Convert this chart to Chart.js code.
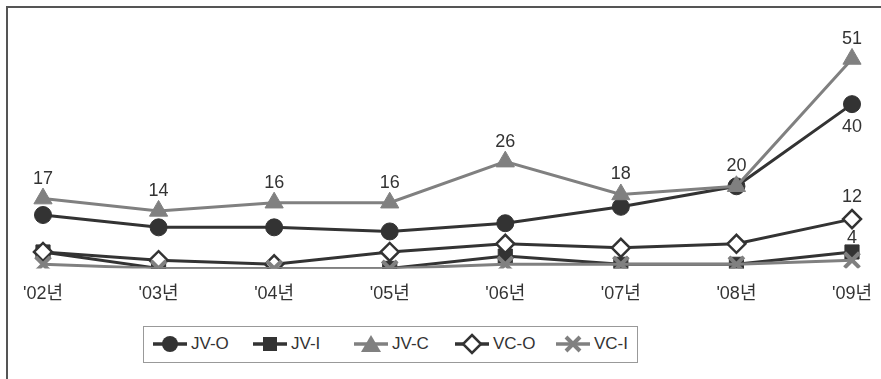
<!DOCTYPE html>
<html lang="ko">
<head>
<meta charset="UTF-8">
<title>JV / VC</title>
<script src="https://cdn.jsdelivr.net/npm/chart.js"></script>
<style>
    body { margin: 0; background: #fff; width: 881px; height: 379px; overflow: hidden; position: relative; }
    .frame { position: absolute; left: 6px; top: 6px; width: 900px; height: 400px; border-left: 2px solid #555; border-top: 2px solid #555; }
    .wrap { position: absolute; left: 0; top: 0; width: 881px; height: 320px; }
    .legend { position: absolute; left: 143px; top: 326px; width: 493px; height: 35px; border: 1.5px solid #999;
        font-family: "Liberation Sans", "Noto Sans CJK KR", sans-serif; font-size: 17px; color: #333; }
    .legend span { position: absolute; top: 7px; }
    .legend svg { position: absolute; top: 6px; }
</style>
</head>
<body>
<div class="frame"></div>
<div class="wrap"><canvas id="grafico"></canvas></div>
<div class="legend" id="legenda"></div>

<script>
// dados
var anos = ["'02년", "'03년", "'04년", "'05년", "'06년", "'07년", "'08년", "'09년"];
var jvO = [13, 10, 10, 9, 11, 15, 20, 40];
var jvI = [4, 0, 0, 0, 3, 1, 1, 4];
var jvC = [17, 14, 16, 16, 26, 18, 20, 51];
var vcO = [4, 2, 1, 4, 6, 5, 6, 12];
var vcI = [1, 0, 0, 0, 1, 1, 1, 2];

// which points carry a value label (1 = shown)
var rotuloJvO = [0, 0, 0, 0, 0, 0, 0, 1];
var rotuloJvI = [0, 0, 0, 0, 0, 0, 0, 1];
var rotuloJvC = [1, 1, 1, 1, 1, 1, 1, 1];
var rotuloVcO = [0, 0, 0, 0, 0, 0, 0, 1];

var escuro = '#333333';
var cinza = '#808080';
var fonte = '"Liberation Sans", "Noto Sans CJK KR", sans-serif';

// plugin simples para os rótulos de valor
const rotulos = {
    id: 'rotulos',
    afterDatasetsDraw(chart) {
        const ctx = chart.ctx;
        ctx.save();
        ctx.font = '18px ' + fonte;
        ctx.fillStyle = '#333';
        ctx.textAlign = 'center';
        ctx.textBaseline = 'middle';
        chart.data.datasets.forEach(function (ds, i) {
            if (!ds.rotulos) return;
            const meta = chart.getDatasetMeta(i);
            meta.data.forEach(function (p, j) {
                if (!ds.rotulos[j]) return;
                ctx.fillText(ds.data[j], p.x, p.y + ds.deslocRotulo);
            });
        });
        ctx.restore();
    }
};

const dados = {
    labels: anos,
    datasets: [
        { label: 'JV-O', data: jvO, borderColor: escuro, backgroundColor: escuro, pointStyle: 'circle', pointRadius: 8.5,
          borderWidth: 3, pointBorderWidth: 1, order: 5, rotulos: rotuloJvO, deslocRotulo: 23 },
        { label: 'JV-I', data: jvI, borderColor: escuro, backgroundColor: escuro, pointStyle: 'rect', pointRadius: 10,
          borderWidth: 3, pointBorderWidth: 1, order: 4, rotulos: rotuloJvI, deslocRotulo: -14 },
        { label: 'JV-C', data: jvC, borderColor: cinza, backgroundColor: cinza, pointStyle: 'triangle', pointRadius: 10.5,
          borderWidth: 3, pointBorderWidth: 1, order: 3, rotulos: rotuloJvC, deslocRotulo: -20 },
        { label: 'VC-O', data: vcO, borderColor: escuro, backgroundColor: '#ffffff', pointStyle: 'rectRot', pointRadius: 9,
          borderWidth: 3, pointBorderWidth: 2.5, order: 2, rotulos: rotuloVcO, deslocRotulo: -22 },
        { label: 'VC-I', data: vcI, borderColor: cinza, backgroundColor: cinza, pointStyle: 'crossRot', pointRadius: 10.5,
          borderWidth: 3, pointBorderWidth: 4, order: 1 }
    ]
};

const config = {
    type: 'line',
    data: dados,
    options: {
        responsive: true,
        maintainAspectRatio: false,
        animation: false,
        layout: { padding: { left: 43, right: 29, top: 22, bottom: 0 } },
        plugins: { legend: { display: false }, tooltip: { enabled: false } },
        elements: { line: { tension: 0 } },
        scales: {
            x: {
                offset: false,
                grid: { display: false, drawTicks: false },
                border: { display: false },
                ticks: { color: '#333', font: { size: 18, family: fonte }, padding: 15, maxRotation: 0, autoSkip: false },
                afterFit: function (s) { s.paddingLeft = 0; s.paddingRight = 0; }
            },
            y: { display: false, min: 0, max: 60 }
        }
    },
    plugins: [rotulos]
};

const myChart = new Chart(document.getElementById('grafico'), config);

// legenda em html
var icones = {
    circle: '<circle cx="17" cy="11" r="8" fill="#333"/>',
    rect: '<rect x="10" y="4" width="14" height="14" fill="#333"/>',
    triangle: '<polygon points="17,2 27,19 7,19" fill="#808080"/>',
    rectRot: '<polygon points="17,2 26,11 17,20 8,11" fill="#fff" stroke="#333" stroke-width="2.5"/>',
    crossRot: '<path d="M10,4 L24,18 M24,4 L10,18" stroke="#808080" stroke-width="4"/>'
};
var posLegenda = [9, 109, 210, 311, 412];
var leg = document.getElementById('legenda');
dados.datasets.forEach(function (ds, i) {
    var svg = '<svg width="34" height="22" style="left:' + posLegenda[i] + 'px">' +
        '<line x1="0" y1="11" x2="34" y2="11" stroke="' + ds.borderColor + '" stroke-width="3.5"/>' +
        icones[ds.pointStyle] + '</svg>';
    leg.innerHTML += svg + '<span style="left:' + (posLegenda[i] + 38) + 'px">' + ds.label + '</span>';
});
</script>
</body>
</html>
